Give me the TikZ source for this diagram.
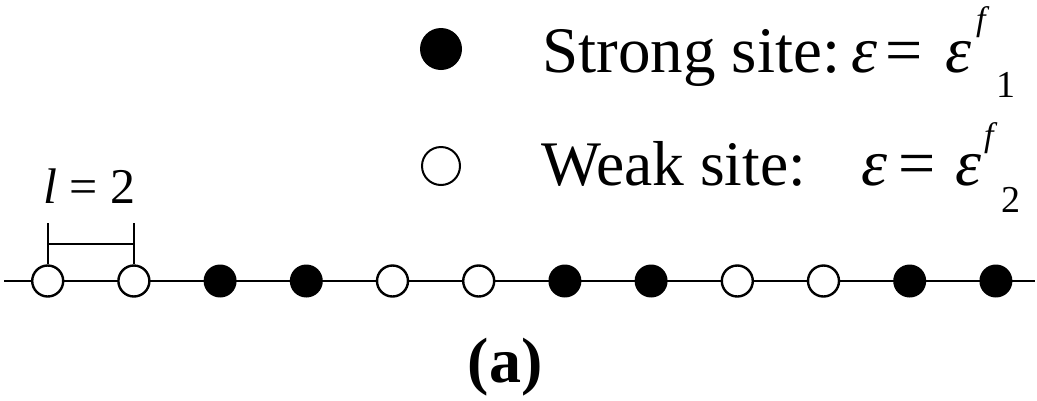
\documentclass[tikz,border=0pt]{standalone}
\usepackage{fontspec}
\setmainfont{Liberation Serif}
\begin{document}
\begin{tikzpicture}[x=1pt,y=-1pt,
  txt/.style={inner sep=0pt,anchor=base west,font=\fontsize{66}{76}\selectfont},
  sup/.style={inner sep=0pt,anchor=base west,font=\fontsize{34}{40}\selectfont\itshape},
  sub/.style={inner sep=0pt,anchor=base west,font=\fontsize{38}{44}\selectfont},
  weak/.style={circle,draw=black,fill=white,line width=2.4pt,minimum size=31pt,inner sep=0pt},
  strong/.style={circle,fill=black,minimum size=33pt,inner sep=0pt},
  wire/.style={line width=2pt}]
\useasboundingbox (0,0) rectangle (1037,400);
% legend
\node[circle,fill=black,minimum size=42pt,inner sep=0pt] (ls) at (441,49) {};
\node[circle,draw=black,line width=2pt,minimum size=38pt,inner sep=0pt] (lw) at (441,166) {};
\node[txt,font=\fontsize{65}{76}\selectfont] (t1) at (542,72) {Strong site:};
\node[txt] (e1a) at (851,72) {\itshape ε};
\node[txt] (q1) at (885,72) {=};
\node[txt] (e1b) at (945,72) {\itshape ε};
\node[sup] (f1) at (976,30) {f};
\node[sub] (s1) at (996,97) {1};
\node[txt,font=\fontsize{63.5}{72}\selectfont] (t2) at (541,185) {Weak site:};
\node[txt] (e2a) at (861,185) {\itshape ε};
\node[txt] (q2) at (898,185) {=};
\node[txt] (e2b) at (955,185) {\itshape ε};
\node[sup] (f2) at (984,146) {f};
\node[sub] (s2) at (1001,212) {2};
% l = 2
\node[inner sep=0pt,anchor=base west,font=\fontsize{50}{56}\selectfont] (lab) at (43,203) {\itshape l\upshape\ = 2};
% chain
\coordinate (L) at (4,281);
\coordinate (R) at (1035,281);
\draw[wire] (L) -- (R);
\foreach \i/\k in {0/weak,1/weak,2/strong,3/strong,4/weak,5/weak,6/strong,7/strong,8/weak,9/weak,10/strong,11/strong}
  \node[\k] (c\i) at ({47.7+86.2*\i},281) {};
% bracket
\coordinate (b0) at (47.7,223);
\coordinate (b1) at (133.9,223);
\draw[wire] (b0) -- (c0.north);
\draw[wire] (b1) -- (c1.north);
\draw[wire] (b0 |- 0,244) -- (b1 |- 0,244);
\node[inner sep=0pt,anchor=base,font=\fontsize{64}{70}\selectfont\bfseries] (cap) at (505,382) {(a)};
\end{tikzpicture}
\end{document}
